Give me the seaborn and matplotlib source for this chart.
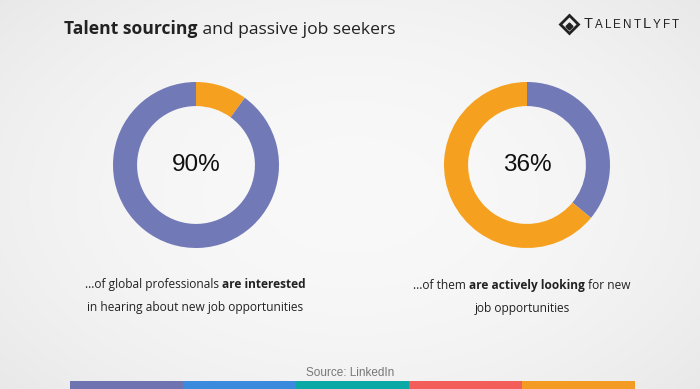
import numpy as np
import matplotlib
matplotlib.use("Agg")
import matplotlib.pyplot as plt
import seaborn as sns

# values
left_share = [10, 90]      # orange, purple
right_share = [36, 64]     # purple, orange
left_label = "90%"
right_label = "36%"
strip_colors = ["#6f73b0", "#3a8bdd", "#0aa9a6", "#f45e5a", "#f49b23"]

purple = "#7279b7"
orange = "#f5a11f"

sns.set_style("white")
plt.rcParams["font.family"] = ["Open Sans", "DejaVu Sans"]

W, H = 700, 389
fig = plt.figure(figsize=(7, 3.89), dpi=100)

# background: light grey with a slightly brighter middle
bg = fig.add_axes([0, 0, 1, 1])
yy, xx = np.mgrid[0:H, 0:W]
d = np.sqrt(((xx - W / 2) / (W * 0.7)) ** 2 + ((yy - H / 2) / (H * 0.8)) ** 2)
shade = 0.975 - 0.07 * d ** 2
bg.imshow(np.dstack([shade] * 3), extent=[0, W, H, 0], aspect="auto")
bg.axis("off")


def fx(x):
    return x / W


def fy(y):
    return 1 - y / H


def rich(pieces, x, y, size, align="left", color="#222222", family=None,
         gap=0.0):
    # draw text pieces with mixed weights / sizes on one line
    r = fig.canvas.get_renderer()
    pieces = [p if len(p) == 3 else (p[0], p[1], size) for p in pieces]
    widths = []
    for txt, wt, sz in pieces:
        t = fig.text(0, 0, txt, fontsize=sz, fontweight=wt, family=family)
        widths.append(t.get_window_extent(r).width + gap)
        t.remove()
    total = sum(widths)
    start = x - total / 2 if align == "center" else x
    for (txt, wt, sz), w in zip(pieces, widths):
        fig.text(fx(start), fy(y), txt, fontsize=sz, fontweight=wt,
                 color=color, va="baseline", family=family)
        start += w


fig.canvas.draw()

# title
rich([("Talent sourcing", "bold"), (" and passive job seekers", "normal")],
     64, 34, 12.6)

# logo, spaced small caps
logo = [(c, "normal", 10.5 if c in "TL" and i in (0, 6) else 8.4)
        for i, c in enumerate("TALENTLYFT")]
rich(logo, 584, 28, 10, color="#222222", family="Liberation Sans", gap=2.0)
bg.plot([569], [24], marker="D", markersize=9, markerfacecolor="none",
        markeredgecolor="#222222", markeredgewidth=2.0)
bg.plot([569], [26], marker="D", markersize=3.5, color="#222222")
bg.set_xlim(0, W)
bg.set_ylim(H, 0)


def donut(cx, cy, vals, cols, label):
    r = 83
    ax = fig.add_axes([fx(cx - r), fy(cy + r), 2 * r / W, 2 * r / H])
    ax.pie(vals, colors=cols, startangle=90, counterclock=False,
           wedgeprops=dict(width=0.29, linewidth=0))
    ax.set_xlim(-1, 1)
    ax.set_ylim(-1, 1)
    ax.set_aspect("equal")
    ax.axis("off")
    ax.text(0, 0, label, ha="center", va="center", fontsize=17.5,
            family="Liberation Sans", color="#111111")


donut(196, 165, left_share, [orange, purple], left_label)
donut(527, 165, right_share, [purple, orange], right_label)

# captions
rich([("...of global professionals ", "normal"), ("are interested", "bold")],
     195, 288, 8.6, align="center")
rich([("in hearing about new job opportunities", "normal")],
     195, 311, 8.6, align="center")
rich([("...of them ", "normal"), ("are actively looking", "bold"),
      (" for new", "normal")], 522, 289, 8.6, align="center")
rich([("job opportunities", "normal")], 522, 312, 8.6, align="center")

fig.text(0.5, fy(376), "Source: LinkedIn", ha="center", va="baseline",
         fontsize=8.5, color="#777777", family="Liberation Sans")

# colour strip along the bottom
strip = fig.add_axes([fx(70), 0, (635 - 70) / W, 8 / H])
sns.barplot(x=[1] * len(strip_colors), y=list(range(len(strip_colors))),
            hue=list(range(len(strip_colors))), palette=strip_colors,
            saturation=1, orient="h", width=1, legend=False, ax=strip,
            linewidth=0)
# lay the five bars side by side instead of stacked rows
for i, p in enumerate(strip.patches):
    p.set_x(i)
    p.set_y(0)
    p.set_height(1)
strip.set_xlim(0, len(strip_colors))
strip.set_ylim(0, 1)
strip.axis("off")

fig.savefig("out.png", dpi=100)
